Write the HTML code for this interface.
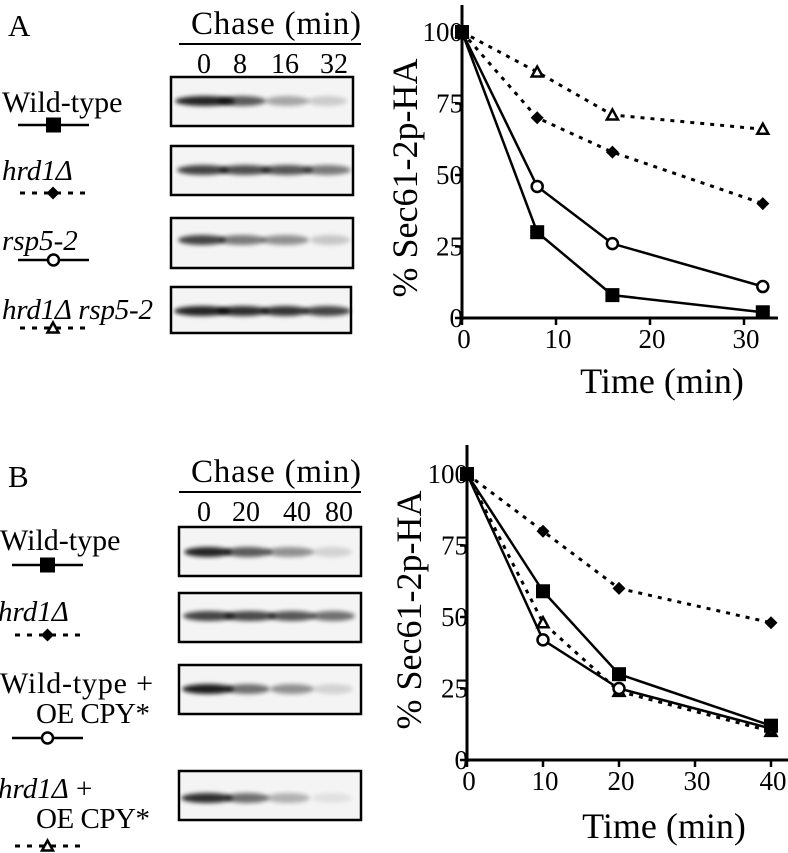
<!DOCTYPE html>
<html><head><meta charset="utf-8">
<style>
html,body{margin:0;padding:0;background:#fff;}
svg{display:block;font-family:"Liberation Serif",serif;}
</style></head>
<body>
<svg id="fig" width="788" height="853" viewBox="0 0 788 853" xmlns="http://www.w3.org/2000/svg">
<defs><filter id="blur" x="-20%" y="-100%" width="140%" height="300%"><feGaussianBlur stdDeviation="2.2"/></filter></defs>
<g id="panelA">
<text x="8" y="36" font-size="31">A</text>
<text x="191" y="34" font-size="33" textLength="170">Chase (min)</text>
<line x1="179" y1="44" x2="361" y2="44" stroke="#000" stroke-width="2"/>
<text x="204" y="73" font-size="28" text-anchor="middle">0</text>
<text x="240" y="73" font-size="28" text-anchor="middle">8</text>
<text x="285" y="73" font-size="28" text-anchor="middle">16</text>
<text x="334" y="73" font-size="28" text-anchor="middle">32</text>
<text x="2" y="112" font-size="30">Wild-type</text>
<text x="2" y="180" font-size="29" font-style="italic">hrd1Δ</text>
<text x="2" y="250" font-size="29" font-style="italic">rsp5-2</text>
<text x="2" y="319" font-size="29" font-style="italic" textLength="151">hrd1Δ rsp5-2</text>
</g>
<g id="panelB">
<text x="8" y="487" font-size="31">B</text>
<text x="191" y="482" font-size="33" textLength="170">Chase (min)</text>
<line x1="179" y1="492" x2="361" y2="492" stroke="#000" stroke-width="2"/>
<text x="204" y="521" font-size="28" text-anchor="middle">0</text>
<text x="246" y="521" font-size="28" text-anchor="middle">20</text>
<text x="297" y="521" font-size="28" text-anchor="middle">40</text>
<text x="339" y="521" font-size="28" text-anchor="middle">80</text>
<text x="0" y="550" font-size="30">Wild-type</text>
<text x="-2" y="621" font-size="29" font-style="italic">hrd1Δ</text>
<text x="0" y="693" font-size="30" textLength="153">Wild-type +</text>
<text x="36" y="723" font-size="29" textLength="114">OE CPY*</text>
<text x="-2" y="798" font-size="29"><tspan font-style="italic">hrd1Δ</tspan> +</text>
<text x="36" y="828" font-size="29" textLength="114">OE CPY*</text>
</g>
<g id="blots"></g>
<g id="legends"></g>
<g id="chartA"></g>
<g id="chartB"></g>
</svg>
<script>
// Panel A data
const timesA = [0, 8, 16, 32];
const wtA = [100, 30, 8, 2];
const hrd1A = [100, 70, 58, 40];
const rsp5A = [100, 46, 26, 11];
const doubleA = [100, 86, 71, 66];
const xTicksA = [0, 10, 20, 30];
// Panel B data
const timesB = [0, 10, 20, 40];
const wtB = [100, 59, 30, 12];
const hrd1B = [100, 80, 60, 48];
const wtOeB = [100, 42, 25, 11];
const hrd1OeB = [100, 48, 24, 10];
const xTicksB = [0, 10, 20, 30, 40];
const yTicks = [0, 25, 50, 75, 100];

const NS = "http://www.w3.org/2000/svg";
function mk(tag, attrs, parent) {
  const e = document.createElementNS(NS, tag);
  for (const k in attrs) e.setAttribute(k, attrs[k]);
  parent.appendChild(e);
  return e;
}
function marker(g, type, x, y, s) {
  let m;
  if (type === "square") m = mk("rect", {x: x - s, y: y - s, width: 2 * s, height: 2 * s, fill: "#000"}, g);
  else if (type === "diamond") m = mk("polygon", {points: `${x},${y - s} ${x + s},${y} ${x},${y + s} ${x - s},${y}`, fill: "#000"}, g);
  else if (type === "circle") m = mk("circle", {cx: x, cy: y, r: s - 1, fill: "#fff", stroke: "#000", "stroke-width": 2.5}, g);
  else m = mk("polygon", {points: `${x},${y - s + 1} ${x + s - 1},${y + s - 2} ${x - s + 1},${y + s - 2}`, fill: "#fff", stroke: "#000", "stroke-width": 2.5}, g);
  return m;
}

function drawChart(gid, cfg) {
  const g = document.getElementById(gid);
  const sx = v => cfg.x0 + (v - cfg.xmin) * cfg.kx;
  const sy = v => cfg.y0 - v * cfg.ky;
  const yax = mk("line", {x1: cfg.x0, y1: cfg.top, x2: cfg.x0, y2: cfg.y0 + 2, stroke: "#000", "stroke-width": 3}, g);
  
  
  const xax = mk("line", {x1: cfg.x0 - 2, y1: cfg.y0, x2: cfg.right, y2: cfg.y0, stroke: "#000", "stroke-width": 3}, g);
  
  
  yTicks.forEach(v => {
    mk("line", {x1: cfg.x0 - 7, y1: sy(v), x2: cfg.x0, y2: sy(v), stroke: "#000", "stroke-width": 2.5}, g);
    const t = mk("text", {x: cfg.x0 + 1, y: sy(v) + 9, "font-size": 27, "text-anchor": "end"}, g);
    t.textContent = v;
    
    
  });
  cfg.xticks.forEach(v => {
    mk("line", {x1: sx(v), y1: cfg.y0, x2: sx(v), y2: cfg.y0 + 7, stroke: "#000", "stroke-width": 2.5}, g);
    const t = mk("text", {x: sx(v) + 2, y: cfg.y0 + 30, "font-size": 27, "text-anchor": "middle"}, g);
    t.textContent = v;
    
    
  });
  const yt = mk("text", {x: 0, y: 0, "font-size": 36, "text-anchor": "middle", transform: `translate(${cfg.ytx},${cfg.yty}) rotate(-90)`}, g);
  yt.textContent = "% Sec61-2p-HA";
  
  
  const xt = mk("text", {x: cfg.xtx, y: cfg.xty, "font-size": 36, "text-anchor": "middle"}, g);
  xt.textContent = "Time (min)";
  
  
  cfg.series.forEach(s => {
    const pts = s.vals.map((v, i) => `${sx(cfg.times[i])},${sy(v)}`).join(" ");
    const pl = mk("polyline", {points: pts, fill: "none", stroke: "#000", "stroke-width": s.dash ? 3 : 2.5, "stroke-dasharray": s.dash ? "4 6" : "none"}, g);
    
    
  });
  cfg.series.forEach(s => {
    s.vals.forEach((v, i) => {
      const m = marker(g, s.type, sx(cfg.times[i]), sy(v), s.type === "square" ? 7 : 6.5);
      
      
    });
  });
}

drawChart("chartA", {x0: 462, y0: 318, xmin: 0, kx: 9.4, ky: 2.86, top: 5, right: 778,
  xticks: xTicksA, times: timesA, ytx: 417, yty: 178, xtx: 662, xty: 393,
  series: [
    {name: "double-a", vals: doubleA, type: "triangle", dash: true},
    {name: "hrd1-a", vals: hrd1A, type: "diamond", dash: true},
    {name: "rsp5-a", vals: rsp5A, type: "circle", dash: false},
    {name: "wild-type-a", vals: wtA, type: "square", dash: false}]});
drawChart("chartB", {x0: 467, y0: 760, xmin: 0, kx: 7.6, ky: 2.86, top: 445, right: 788,
  xticks: xTicksB, times: timesB, ytx: 421, yty: 610, xtx: 664, xty: 838,
  series: [
    {name: "hrd1-b", vals: hrd1B, type: "diamond", dash: true},
    {name: "hrd1-oe-b", vals: hrd1OeB, type: "triangle", dash: true},
    {name: "wt-oe-b", vals: wtOeB, type: "circle", dash: false},
    {name: "wild-type-b", vals: wtB, type: "square", dash: false}]});

// Blots
const blots = document.getElementById("blots");
const blotRows = [
  {x: 171, y: 77, w: 182, h: 49, cy: 101, bands: [[205, 0.95, 30], [242, 0.7, 24], [287, 0.35, 22], [327, 0.18, 20]]},
  {x: 171, y: 146, w: 182, h: 49, cy: 170, bands: [[203, 0.8, 26], [245, 0.75, 26], [287, 0.72, 26], [327, 0.55, 24]]},
  {x: 171, y: 218, w: 182, h: 50, cy: 240, bands: [[202, 0.8, 24], [242, 0.55, 24], [285, 0.45, 24], [330, 0.2, 20]]},
  {x: 171, y: 287, w: 180, h: 46, cy: 311, bands: [[202, 0.95, 28], [243, 0.9, 26], [285, 0.88, 24], [327, 0.8, 24]]},
  {x: 179, y: 527, w: 182, h: 49, cy: 552, bands: [[208, 0.95, 24], [248, 0.7, 24], [290, 0.45, 24], [332, 0.15, 20]]},
  {x: 179, y: 593, w: 182, h: 49, cy: 616, bands: [[209, 0.8, 26], [250, 0.78, 26], [292, 0.72, 24], [333, 0.6, 22]]},
  {x: 179, y: 665, w: 182, h: 49, cy: 689, bands: [[208, 0.98, 26], [248, 0.6, 22], [292, 0.45, 22], [333, 0.15, 20]]},
  {x: 179, y: 771, w: 182, h: 49, cy: 798, bands: [[207, 0.9, 26], [247, 0.6, 22], [288, 0.3, 22], [332, 0.08, 20]]}
];
blotRows.forEach((r, i) => {
  const g = mk("g", {}, blots);
  
  
  mk("rect", {x: r.x, y: r.y, width: r.w, height: r.h, fill: "#f4f4f4"}, g);
  r.bands.forEach(b => {
    mk("ellipse", {cx: b[0], cy: r.cy, rx: b[2], ry: 5, fill: "#000", opacity: b[1] * 0.9, filter: "url(#blur)"}, g);
  });
  mk("rect", {x: r.x, y: r.y, width: r.w, height: r.h, fill: "none", stroke: "#000", "stroke-width": 2.5}, g);
});

// Legend line samples
const lg = document.getElementById("legends");
const legendSamples = [
  [18, 89, 125, "square", false], [20, 86, 193, "diamond", true], [18, 89, 260, "circle", false], [20, 86, 328, "triangle", true],
  [12, 83, 565, "square", false], [15, 80, 635, "diamond", true], [12, 83, 738, "circle", false], [15, 80, 846, "triangle", true]
];
legendSamples.forEach(s => {
  const g = mk("g", {}, lg);
  
  
  mk("line", {x1: s[0], y1: s[2], x2: s[1], y2: s[2], stroke: "#000", "stroke-width": s[4] ? 3 : 2.5, "stroke-dasharray": s[4] ? "5 7" : "none"}, g);
  marker(g, s[3], (s[0] + s[1]) / 2, s[2], s[3] === "square" ? 7.5 : 6.5);
});
</script>
</body></html>
